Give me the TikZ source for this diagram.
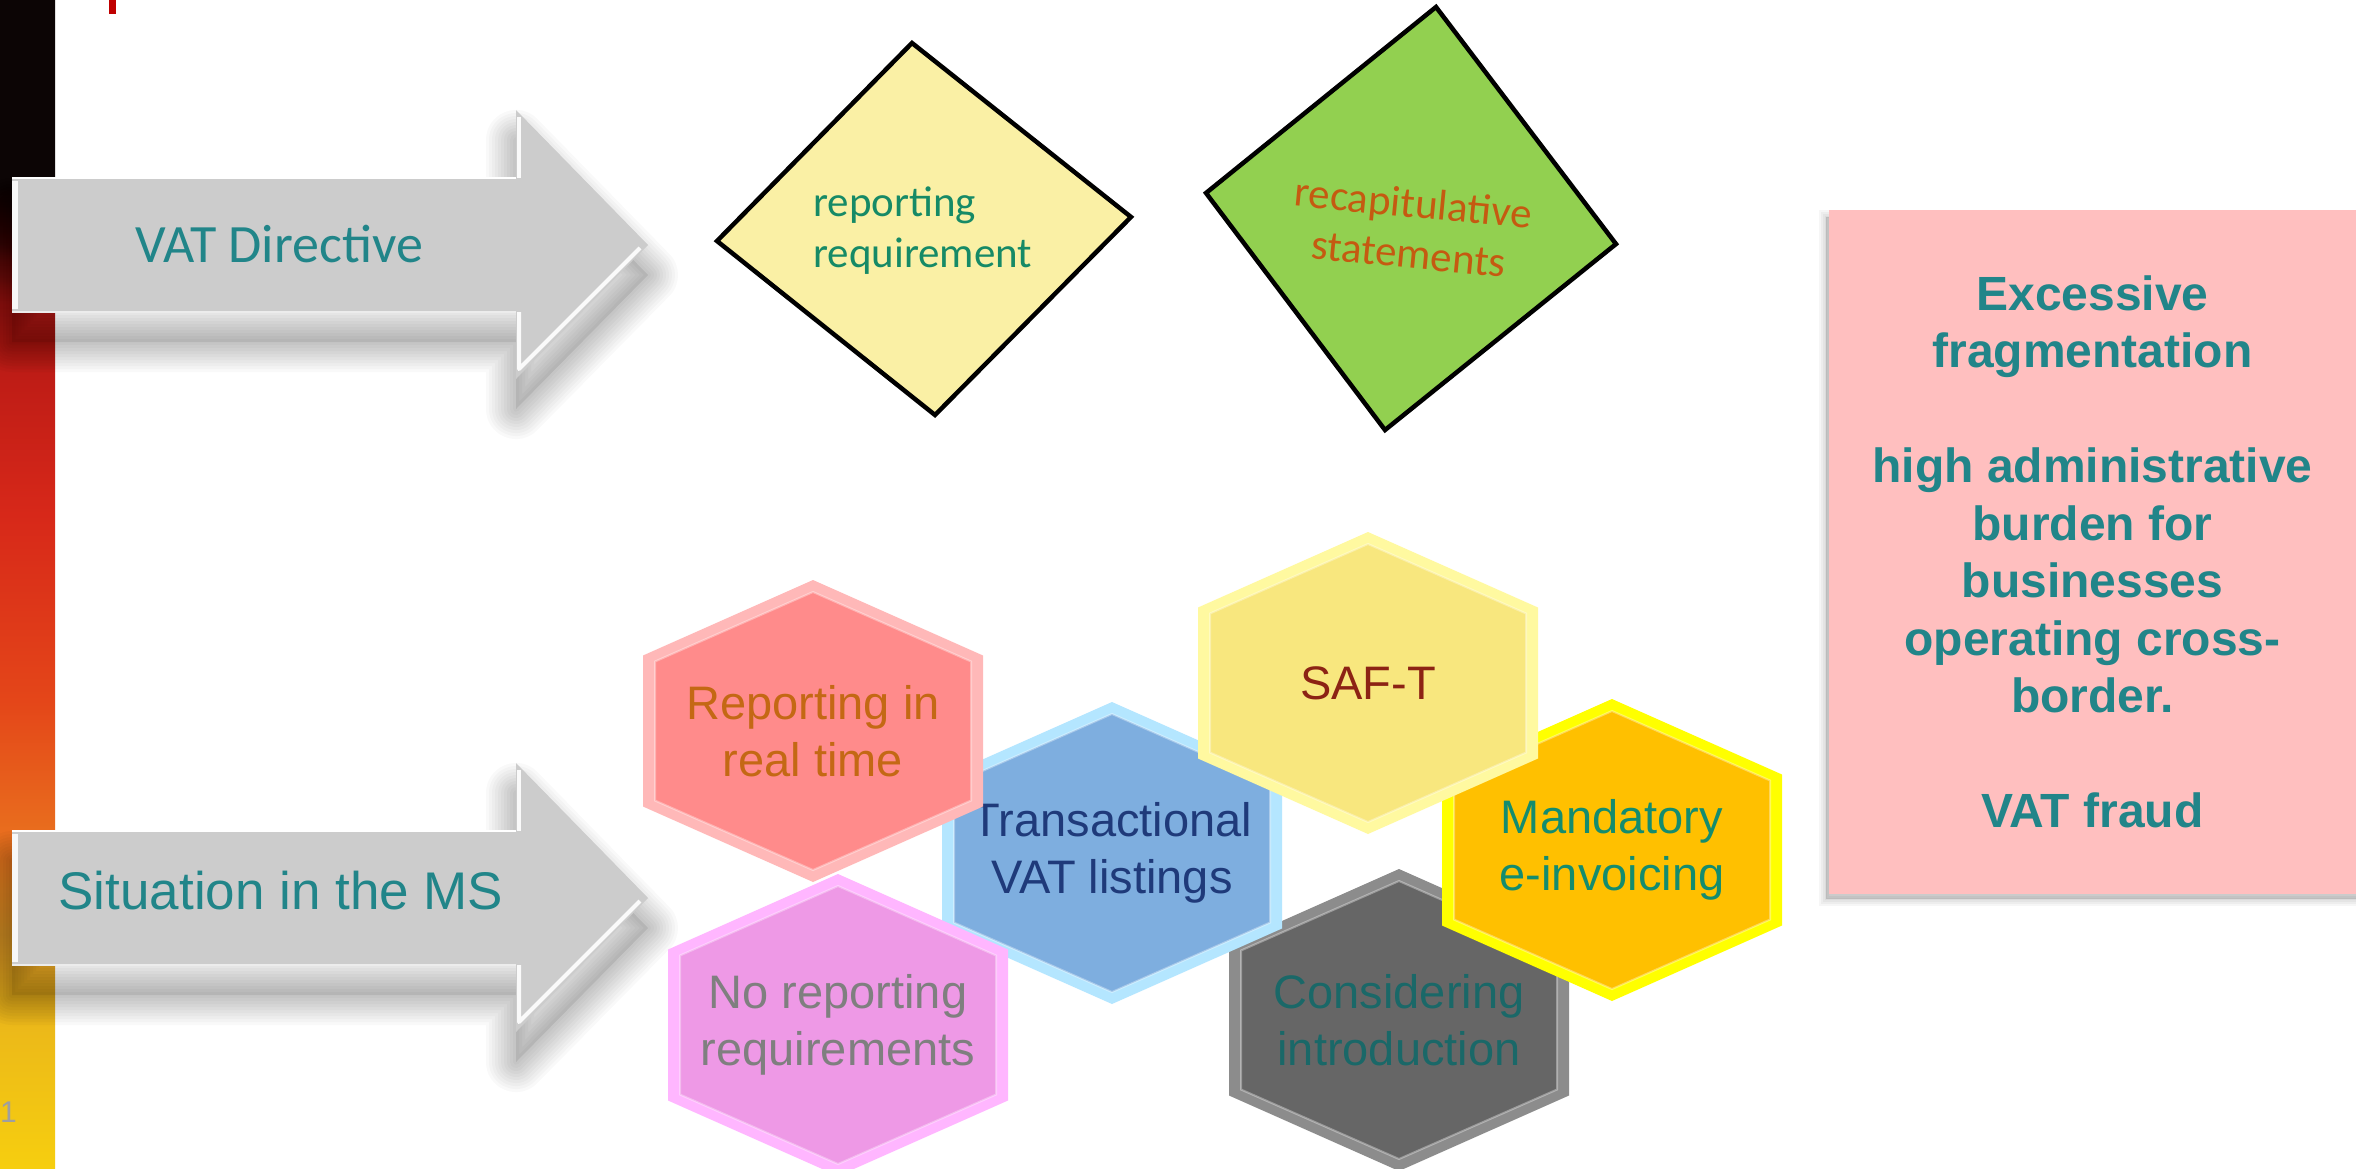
\documentclass[tikz,border=0pt]{standalone}
\usepackage{fontspec}
\setmainfont{Liberation Sans}
\newfontfamily\calibri{Carlito}
\usetikzlibrary{calc}

\definecolor{tealtext}{RGB}{33,133,137}
\definecolor{arrowgray}{RGB}{204,204,204}
\definecolor{diayellow}{RGB}{250,240,165}
\definecolor{diagreen}{RGB}{146,208,80}
\definecolor{reqgreen}{RGB}{22,138,102}
\definecolor{recaporange}{RGB}{197,90,17}
\definecolor{boxpink}{RGB}{255,191,191}
\definecolor{repface}{RGB}{255,139,139}
\definecolor{reprim}{RGB}{255,184,184}
\definecolor{reptext}{RGB}{196,104,20}
\definecolor{norepface}{RGB}{238,153,230}
\definecolor{noreprim}{RGB}{255,182,255}
\definecolor{noreptext}{RGB}{127,127,127}
\definecolor{transface}{RGB}{126,174,223}
\definecolor{transrim}{RGB}{180,230,255}
\definecolor{transtext}{RGB}{31,58,122}
\definecolor{saftface}{RGB}{248,231,126}
\definecolor{saftrim}{RGB}{255,249,160}
\definecolor{safttext}{RGB}{140,35,20}
\definecolor{mandface}{RGB}{255,192,0}
\definecolor{mandrim}{RGB}{255,255,0}
\definecolor{mandtext}{RGB}{20,140,110}
\definecolor{consface}{RGB}{102,102,102}
\definecolor{consrim}{RGB}{140,140,140}
\definecolor{constext}{RGB}{26,104,104}
\definecolor{em0}{RGB}{12,5,5}
\definecolor{em1}{RGB}{40,8,8}
\definecolor{em2}{RGB}{150,20,18}
\definecolor{em3}{RGB}{190,28,22}
\definecolor{em4}{RGB}{215,40,25}
\definecolor{em5}{RGB}{228,70,25}
\definecolor{em6}{RGB}{233,112,30}
\definecolor{em7}{RGB}{205,140,35}
\definecolor{em8}{RGB}{236,185,25}
\definecolor{em9}{RGB}{246,206,15}
\pgfdeclareverticalshading{ember}{100bp}{color(0bp)=(em9); color(25bp)=(em9); color(31bp)=(em8); color(35bp)=(em7); color(39bp)=(em6); color(45bp)=(em5); color(53bp)=(em4); color(59bp)=(em3); color(62bp)=(em2); color(65bp)=(em1); color(67bp)=(em0); color(100bp)=(em0)}

\newcommand{\grayarrow}[1]{%
  \fill[black, opacity=.08] (12,#1-37) -- (516,#1-37) -- (516,#1-105) -- (648,#1+30) -- (516,#1+164) -- (516,#1+97) -- (12,#1+97) -- cycle;
  \foreach \k [evaluate=\k as \w using 6*\k] in {1,...,10}
    \draw[black, opacity=.022, line width=\w pt, line join=round]
      (12,#1-37) -- (516,#1-37) -- (516,#1-105) -- (648,#1+30) -- (516,#1+164) -- (516,#1+97) -- (12,#1+97) -- cycle;
  \fill[arrowgray] (12,#1-67) -- (516,#1-67) -- (516,#1-135) -- (648,#1) -- (516,#1+134) -- (516,#1+67) -- (12,#1+67) -- cycle;
  \draw[white, line width=6pt, opacity=.85] (15,#1-64) -- (15,#1+64);
  \draw[white, line width=1.5pt] (12,#1-67) -- (516,#1-67);
  \draw[white!85!gray, line width=1.5pt] (12,#1+67) -- (516,#1+67);
  \draw[white, line width=4pt, opacity=.9] (519,#1-128) -- (519,#1-67);
  \draw[white, line width=4pt, opacity=.9, line join=round] (519,#1+67) -- (519,#1+124) -- (640,#1+3);
}

\newcommand{\hexcell}[6]{%
  \fill[#3] (#1) ++(0,-151) -- ++(170,75.5) -- ++(0,151) -- ++(-170,75.5) -- ++(-170,-75.5) -- ++(0,-151) -- cycle;
  \fill[#4] (#1) ++(0,-139) -- ++(158,69.5) -- ++(0,139) -- ++(-158,69.5) -- ++(-158,-69.5) -- ++(0,-139) -- cycle;
  \draw[white, opacity=.35, line width=2pt] (#1) ++(0,-139) -- ++(158,69.5) -- ++(0,139) -- ++(-158,69.5) -- ++(-158,-69.5) -- ++(0,-139) -- cycle;
  \node[hexlabel, text=#5] (#2) at (#1) {#6};
}

\begin{document}
\begin{tikzpicture}[x=1pt, y=-1pt,
  hexlabel/.style={align=center, inner sep=0pt, font=\fontsize{47}{57}\selectfont},
  diamondshape/.style={draw=black, line width=4.5pt, line join=miter},
  dialabel/.style={inner sep=0pt, font=\calibri\fontsize{43}{51}\selectfont},
  arrowlabel/.style={text=tealtext, inner sep=0pt},
  issuebox/.style={fill=boxpink, minimum width=527pt, minimum height=684pt, inner sep=0pt,
    align=center, text=tealtext, font=\bfseries\fontsize{48}{57.5}\selectfont}]
\useasboundingbox (0,0) rectangle (2356,1168);
\fill[white] (0,0) rectangle (2356,1168);

\shade[shading=ember] (0,0) rectangle (55,1168);
\fill[red!75!black] (109,0) rectangle (116,14);
\node[anchor=base west, text=gray!75, inner sep=0pt, font=\fontsize{30}{36}\selectfont] (slideno) at (0,1122) {1};

\grayarrow{245}
\node[arrowlabel, font=\calibri\fontsize{54}{64}\selectfont] (vatdir) at (279,244) {VAT Directive};
\grayarrow{898}
\node[arrowlabel, font=\fontsize{53}{64}\selectfont] (situation) at (281,891) {Situation in the MS};

\draw[diamondshape, fill=diayellow] (912,43) -- (1131,217) -- (935,415) -- (717,241) -- cycle;
\node[dialabel, anchor=west, align=left, text=reqgreen] (reportreq) at (813,231) {reporting\\requirement};
\draw[diamondshape, fill=diagreen] (1436,7) -- (1616,244) -- (1385,430) -- (1206,193) -- cycle;
\node[dialabel, align=center, text=recaporange, rotate=-5.5] (recap) at (1411,228) {recapitulative\\statements};

\hexcell{1399,1020}{consider}{consrim}{consface}{constext}{Considering\\introduction}
\hexcell{1612,850}{einvoice}{mandrim}{mandface}{mandtext}{Mandatory\\e-invoicing}
\hexcell{1112,853}{translist}{transrim}{transface}{transtext}{Transactional\\VAT listings}
\hexcell{1368,683}{saft}{saftrim}{saftface}{safttext}{SAF-T}
\hexcell{838,1025}{noreport}{noreprim}{norepface}{noreptext}{No reporting\\requirements}
\hexcell{813,731}{realtime}{reprim}{repface}{reptext}{Reporting in\\real time}

\foreach \w in {2,6,10,14}
  \filldraw[black, opacity=.035, line width=\w pt] (1826,217) rectangle (2362,899);
\node[issuebox] (issues) at (2092.5,552) {Excessive\\fragmentation\\[57.5pt]high administrative\\burden for\\businesses\\operating cross-\\border.\\[57.5pt]VAT fraud};
\end{tikzpicture}
\end{document}
